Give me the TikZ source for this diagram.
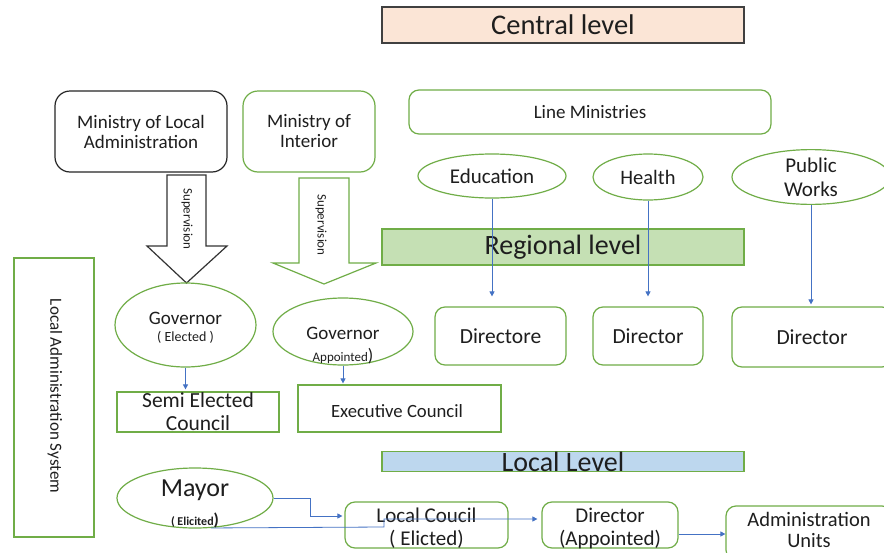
\documentclass[tikz,border=0pt]{standalone}
\usepackage{fontspec}
\setmainfont{Carlito}
\usetikzlibrary{shapes.geometric,shapes.misc,arrows.meta}
\definecolor{gr}{HTML}{70AD47}
\definecolor{bl}{HTML}{4472C4}
\definecolor{peach}{HTML}{FBE5D6}
\definecolor{lgreen}{HTML}{C5E0B4}
\definecolor{lblue}{HTML}{BDD7EE}
\definecolor{txt}{HTML}{1E1E1E}
\newcommand{\fs}[1]{\fontsize{#1}{#1}\selectfont}
\tikzset{
  gbox/.style={draw=gr, line width=1.2pt, rounded corners=10pt, inner sep=0pt, align=center, text=txt},
  sbox/.style={draw=gr, line width=1.2pt, inner sep=0pt, align=center, text=txt},
  gell/.style={draw=gr, line width=1.2pt, ellipse, inner sep=0pt, align=center, text=txt},
  bar/.style={line width=1.2pt, inner sep=0pt, text=txt},
  barrow/.style={draw=bl, line width=0.8pt, -{Triangle[length=5pt,width=5pt]}},
  lbl/.style={inner sep=0pt, align=center, text=txt}
}
\begin{document}
\begin{tikzpicture}[x=1pt,y=-1pt]
\useasboundingbox (0,0) rectangle (884,552);
\fill[white] (0,0) rectangle (884,552);

% bars
\node[bar, draw=black!75, fill=peach, minimum width=362pt, minimum height=36pt, font=\fs{28.5}] (central) at (563,25) {Central level};
\node[bar, draw=gr, fill=lgreen, minimum width=362pt, minimum height=36pt, font=\fs{28}] (regional) at (563,247) {Regional level};
\node[bar, draw=gr, fill=lblue, minimum width=362pt, minimum height=20pt, font=\fs{28}] (local) at (563,461.5) {Local Level};

% ministries
\node[gbox, draw=black!85, rounded corners=15pt, minimum width=172pt, minimum height=81pt, font=\fontsize{19}{20}\selectfont] (mla) at (141,131.5) {Ministry of Local\\Administration};
\node[gbox, rounded corners=15pt, minimum width=132pt, minimum height=81pt, font=\fontsize{19}{20}\selectfont] (moi) at (309,131.5) {Ministry of\\Interior};
\node[gbox, minimum width=362pt, minimum height=44pt, font=\fs{19}] (line) at (590,112) {Line Ministries};

% line ministry ellipses
\node[gell, minimum width=148pt, minimum height=44pt, font=\fs{21}] (edu) at (492,176) {Education};
\node[gell, minimum width=110pt, minimum height=46pt, font=\fs{20.5}] (health) at (648,177) {Health};
\node[gell, minimum width=158pt, minimum height=46pt, font=\fontsize{21}{24}\selectfont] (pw) at (811,177) {Public\\Works};

% directors
\node[gbox, minimum width=131pt, minimum height=58pt, font=\fs{21.5}] (dir1) at (500.5,336) {Directore};
\node[gbox, minimum width=110pt, minimum height=58pt, font=\fs{21.5}] (dir2) at (648,336) {Director};
\node[gbox, minimum width=160pt, minimum height=60pt, font=\fs{21.5}] (dir3) at (812,337) {Director};

\draw[barrow, shorten >=10pt] (edu.south) -- (edu.south |- dir1.north);
\draw[barrow, shorten >=10pt] (health.south) -- (health.south |- dir2.north);
\draw[barrow, shorten >=2pt] (pw.south) -- (pw.south |- dir3.north);

% big arrows
\draw[draw=black!80, line width=1.2pt, line join=miter] (167,175) -- (206,175) -- (206,246) -- (227,246) -- (186.5,283) -- (147,246) -- (167,246) -- cycle;
\node[lbl, rotate=-90, font=\fs{13}] (sup1) at (187,219) {Supervision};
\draw[draw=gr, line width=1.2pt] (299,178) -- (349,178) -- (349,263) -- (376,263) -- (324,284) -- (273,263) -- (299,263) -- cycle;
\node[lbl, rotate=-90, font=\fs{13}] (sup2) at (321,225) {Supervision};

% local administration system
\node[sbox, minimum width=80pt, minimum height=279pt] (las) at (54,397.5) {};
\node[lbl, rotate=-90, font=\fs{17}] (lastext) at (55,396) {Local Administration System};

% governors
\node[gell, minimum width=141pt, minimum height=84pt] (gove) at (185.5,325) {};
\node[lbl, font=\fs{19}] (govet) at (185.5,318) {Governor};
\node[lbl, font=\fs{14}] (goves) at (185.5,337) {( Elected )};
\node[gell, minimum width=140pt, minimum height=67pt] (gova) at (343,331.5) {};
\node[lbl, font=\fs{19}] (govat) at (343,333) {Governor};
\node[lbl, font=\fs{13}] (govas) at (343,356) {Appointed\fs{18})};

\node[sbox, minimum width=162pt, minimum height=40pt, font=\fontsize{21.5}{23}\selectfont] (sec) at (198,412) {Semi Elected\\Council};
\node[sbox, chamfered rectangle, chamfered rectangle corners=north east, chamfered rectangle xsep=7pt, chamfered rectangle ysep=7pt, minimum width=203pt, minimum height=47pt] (exec) at (399.5,408.5) {};
\node[lbl, font=\fs{18.7}] (exect) at (397,411) {Executive Council};

\draw[barrow, shorten >=2pt] (gove.south) -- (gove.south |- sec.north);
\draw[barrow, shorten >=1pt] (gova.south) -- (gova.south |- exec.north);

% local level
\node[gell, minimum width=156pt, minimum height=60pt] (mayor) at (195,498) {};
\node[lbl, font=\fs{26}] (mayort) at (195,490) {Mayor};
\node[lbl, font=\fs{12}\bfseries] (mayors) at (195,520) {( Elicited\fs{17})};
\node[gbox, minimum width=163pt, minimum height=46pt] (lc) at (426.5,525) {};
\node[lbl, font=\fontsize{21}{23}\selectfont] (lct) at (426.5,528) {Local Coucil\\( Elicted)};
\node[gbox, minimum width=136pt, minimum height=46pt] (dapp) at (610,525) {};
\node[lbl, font=\fontsize{21}{23}\selectfont] (dappt) at (610,528) {Director\\(Appointed)};
\node[gbox, minimum width=166pt, minimum height=54pt] (au) at (809,533) {};
\node[lbl, font=\fontsize{20.5}{21}\selectfont] (aut) at (809,530) {Administration\\Units};

\draw[barrow, shorten >=2pt] (mayor.east) -- (310,498) |- ([yshift=9pt]lc.west);
\draw[barrow, shorten >=4pt] (mayor.-62) -- (384,527) |- ([yshift=6pt]dapp.west);
\draw[barrow] ([yshift=-9pt]dapp.east) -- ([yshift=-9pt]dapp.east -| au.west);
\end{tikzpicture}
\end{document}
